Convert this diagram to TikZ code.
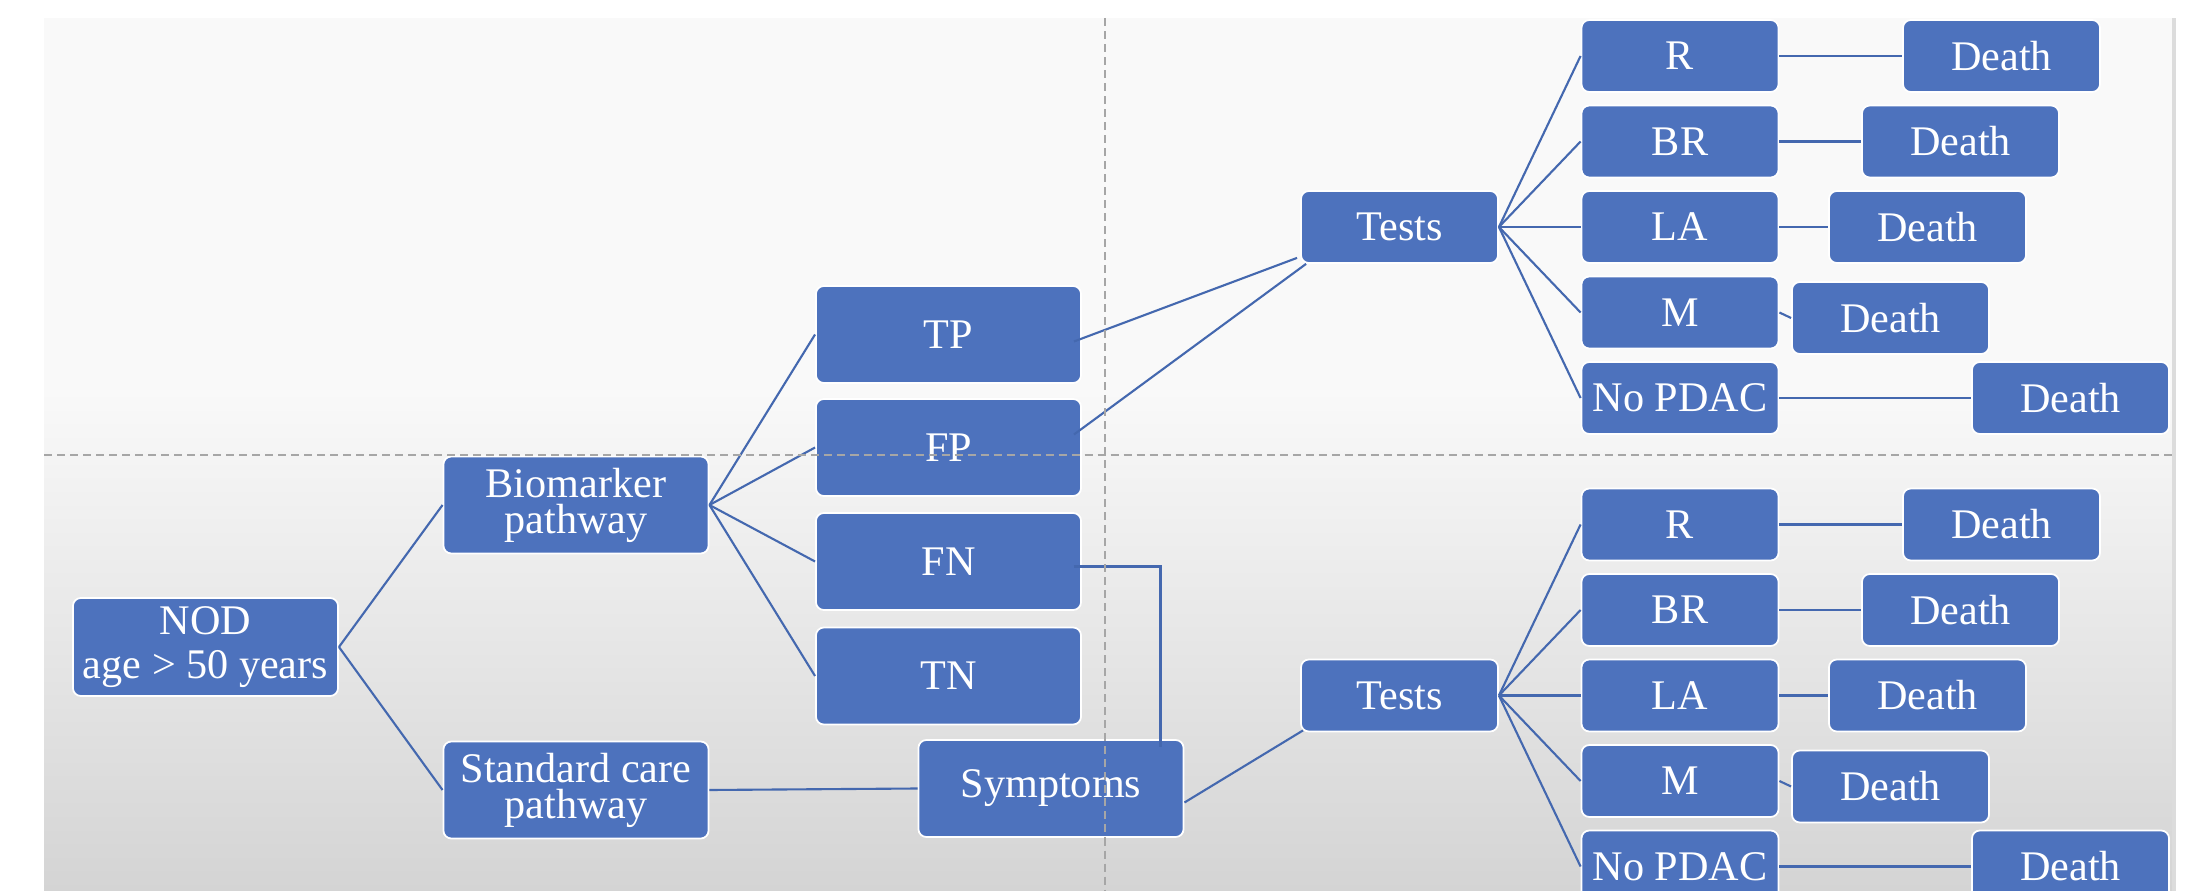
\documentclass[tikz,border=0pt]{standalone}
\usepackage{fontspec}
\setmainfont{Liberation Serif}
\usetikzlibrary{calc}
\definecolor{boxblue}{HTML}{4D72BD}
\definecolor{lineblue}{HTML}{4468AF}
\definecolor{bgtop}{HTML}{F9F9F9}
\definecolor{bgbot}{HTML}{D4D4D4}
\definecolor{dashgray}{HTML}{A6A6A6}
\definecolor{edgegray}{HTML}{DCDCDC}
\begin{document}
\begin{tikzpicture}[x=0.01cm,y=-0.01cm,
  box/.style={draw=white, line width=0.5pt, fill=boxblue, rounded corners=0.08cm,
    text=white, font=\fontsize{12}{14}\selectfont, inner sep=0pt, align=center},
  big/.style={box, minimum width=2.65cm, minimum height=0.97cm},
  small/.style={box, minimum width=1.97cm, minimum height=0.72cm},
  conn/.style={draw=lineblue, line width=0.6pt},
  sep/.style={draw=dashgray, line width=0.6pt, dash pattern=on 0.08cm off 0.05cm}]

\useasboundingbox (0,0) rectangle (2187,891);
% background
\fill[bgtop] (44,18) rectangle (2172,392);
\shade[top color=bgtop, bottom color=bgbot] (44,390) rectangle (2172,891);
\fill[edgegray] (2172,18) rectangle (2176,891);

% left part
\node[big, minimum height=0.98cm, font=\fontsize{12}{12.5}\selectfont] (nod) at (205.5,647) {NOD\\age > 50 years};
\node[big, font=\fontsize{12}{10.2}\selectfont] (bio) at (576,505) {Biomarker\\pathway};
\node[big, font=\fontsize{12}{10.2}\selectfont] (std) at (576,790) {Standard care\\pathway};
\node[big] (tp) at (948.5,334.5) {TP};
\node[big] (fp) at (948.5,447.5) {FP};
\node[big] (fn) at (948.5,561.5) {FN};
\node[big] (tn) at (948.5,676) {TN};
\node[big] (sym) at (1051,788.5) {Symptoms};

\node[small] (testst) at (1399.5,227) {Tests};
\node[small] (testsb) at (1399.5,695.5) {Tests};

\draw[conn] (nod.east) -- (bio.west);
\draw[conn] (nod.east) -- (std.west);
\draw[conn] (bio.east) -- (tp.west);
\draw[conn] (bio.east) -- (fp.west);
\draw[conn] (bio.east) -- (fn.west);
\draw[conn] (bio.east) -- (tn.west);
\draw[conn] (std.east) -- (sym.west);
\draw[conn] ($(tp.east)+(-8,7)$) -- ($(testst.south west)+(-3,-6)$);
\draw[conn] ($(fp.east)+(-8,-13)$) -- ($(testst.south west)+(6,0)$);
\draw[conn] ($(fn.east)+(-8,5)$) -| ($(sym.north east)+(-24,8)$);
\draw[conn] ($(sym.east)+(0,14)$) -- ($(testsb.south west)+(3,-2)$);

% right part (top group and bottom group)
\foreach \g/\dy in {t/0, b/468.5}{
  \node[small] (r\g)  at (1680,56+\dy)    {R};
  \node[small] (br\g) at (1680,141.5+\dy) {BR};
  \node[small] (la\g) at (1680,227+\dy)   {LA};
  \node[small] (m\g)  at (1680,312.5+\dy) {M};
  \node[small] (np\g) at (1680,398+\dy)   {No PDAC};
  \node[small] (dr\g)  at (2001.5,56+\dy)    {Death};
  \node[small] (dbr\g) at (1960.5,141.5+\dy) {Death};
  \node[small] (dla\g) at (1927.5,227+\dy)   {Death};
  \node[small] (dm\g)  at (1890.5,318+\dy)   {Death};
  \node[small] (dnp\g) at (2070.5,398+\dy)   {Death};
  \draw[conn] (tests\g.east) -- (r\g.west);
  \draw[conn] (tests\g.east) -- (br\g.west);
  \draw[conn] (tests\g.east) -- (la\g.west);
  \draw[conn] (tests\g.east) -- (m\g.west);
  \draw[conn] (tests\g.east) -- (np\g.west);
  \draw[conn] (r\g.east) -- (dr\g.west);
  \draw[conn] (br\g.east) -- (dbr\g.west);
  \draw[conn] (la\g.east) -- (dla\g.west);
  \draw[conn] (m\g.east) -- (dm\g.west);
  \draw[conn] (np\g.east) -- (dnp\g.west);
}

% quadrant separators
\draw[sep] (44,455) -- (2172,455);
\draw[sep] (1105,18) -- (1105,891);
\end{tikzpicture}
\end{document}
